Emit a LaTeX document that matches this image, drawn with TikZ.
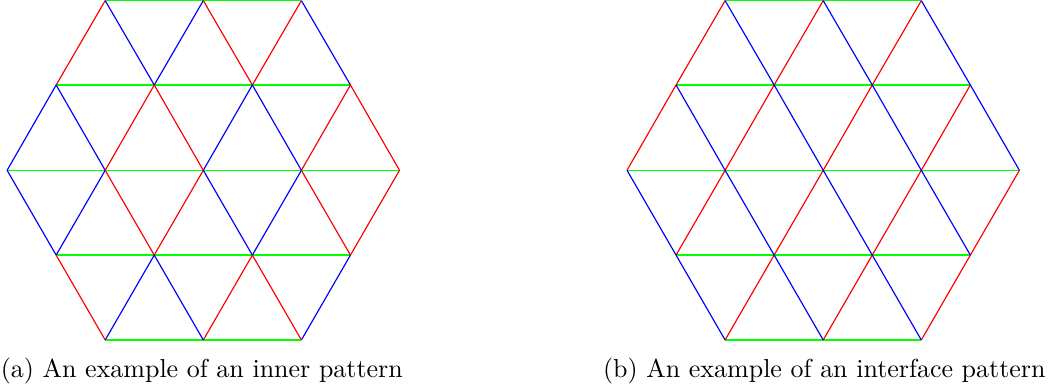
\documentclass[tikz,border=0pt]{standalone}
\begin{document}
\begin{tikzpicture}[x=0.385pt,y=-0.385pt,
  edge/.style={line width=0.45pt},
  rd/.style={edge,draw={rgb,255:red,255;green,0;blue,0}},
  bl/.style={edge,draw={rgb,255:red,0;green,0;blue,255}},
  gr/.style={line width=0.6pt,draw={rgb,255:red,0;green,255;blue,0}},
  captext/.style={inner sep=0pt,font=\fontsize{10pt}{12pt}\selectfont}]
\useasboundingbox (0,0) rectangle (1052,391);
% lattice points: name P-r-k, k = half-unit index 0..8
\foreach \P/\cx in {L/203.3,R/823.2}{
  \foreach \r/\y/\ks in {0/0.6/{2,4,6},1/85.0/{1,3,5,7},2/170.3/{0,2,4,6,8},3/255.1/{1,3,5,7},4/340.0/{2,4,6}}{
    \foreach \k in \ks {
      \coordinate (\P-\r-\k) at ({\cx+(\k-4)*49.05},\y);
    }
  }
}
% horizontal (green) edges
\foreach \P in {L,R}{
  \foreach \r/\a/\b in {0/2/4,0/4/6,1/1/3,1/3/5,1/5/7,2/0/2,2/2/4,2/4/6,2/6/8,3/1/3,3/3/5,3/5/7,4/2/4,4/4/6}{
    \draw[gr] (\P-\r-\a) -- (\P-\r-\b);
  }
}
% left hexagon: diagonal edges, upper point -> lower point
\foreach \r/\a/\b/\c in {
  0/2/1/rd,0/4/3/bl,0/6/5/rd,0/2/3/bl,0/4/5/rd,0/6/7/bl,
  1/1/0/bl,1/3/2/rd,1/5/4/bl,1/7/6/rd,1/1/2/bl,1/3/4/rd,1/5/6/bl,1/7/8/rd,
  2/2/1/bl,2/4/3/rd,2/6/5/bl,2/8/7/rd,2/0/1/bl,2/2/3/rd,2/4/5/bl,2/6/7/rd,
  3/3/2/bl,3/5/4/rd,3/7/6/bl,3/1/2/rd,3/3/4/bl,3/5/6/rd}{
  \pgfmathtruncatemacro\s{\r+1}
  \draw[\c] (L-\r-\a) -- (L-\s-\b);
}
% right hexagon: "/" edges red, "\" edges blue
\foreach \r/\a/\b/\c in {
  0/2/1/rd,0/4/3/rd,0/6/5/rd,0/2/3/bl,0/4/5/bl,0/6/7/bl,
  1/1/0/rd,1/3/2/rd,1/5/4/rd,1/7/6/rd,1/1/2/bl,1/3/4/bl,1/5/6/bl,1/7/8/bl,
  2/2/1/rd,2/4/3/rd,2/6/5/rd,2/8/7/rd,2/0/1/bl,2/2/3/bl,2/4/5/bl,2/6/7/bl,
  3/3/2/rd,3/5/4/rd,3/7/6/rd,3/1/2/bl,3/3/4/bl,3/5/6/bl}{
  \pgfmathtruncatemacro\s{\r+1}
  \draw[\c] (R-\r-\a) -- (R-\s-\b);
}
\node[captext,anchor=base] (capa) at (201.8,377.8) {(a) An example of an inner pattern};
\node[captext,anchor=base] (capb) at (824.3,377.8) {(b) An example of an interface pattern};
\end{tikzpicture}
\end{document}
